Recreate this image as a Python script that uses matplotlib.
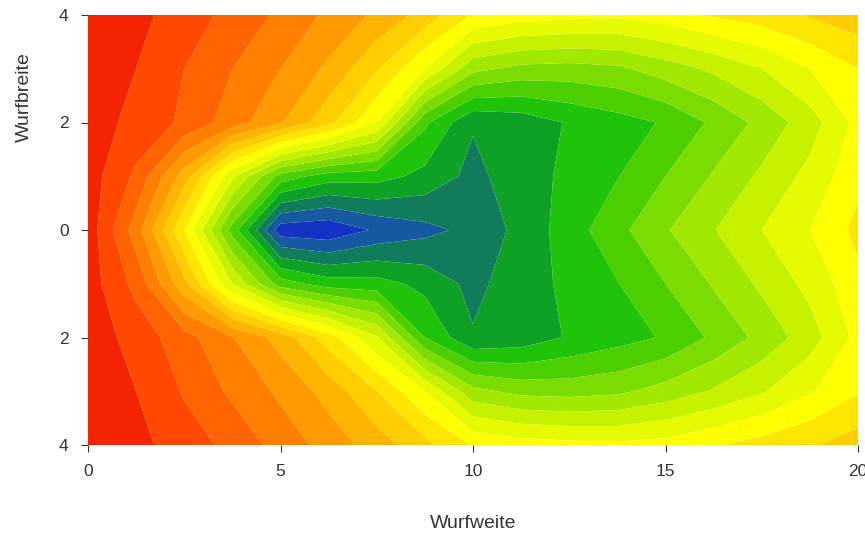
"""Gefüllter Konturplot: Wurfweite vs. Wurfbreite."""

import matplotlib
matplotlib.use("Agg")
import matplotlib.pyplot as plt
import numpy as np

plt.rcParams["font.family"] = ["Liberation Sans", "DejaVu Sans"]

# Rasterpunkte
wurfweite = [0, 1.25, 2.5, 3.75, 5, 6.25, 7.5, 8.75, 10,
             11.25, 12.5, 13.75, 15, 16.25, 17.5, 18.75, 20]
wurfbreite = [-4, -3, -2, -1, 0, 1, 2, 3, 4]

# Werte je Zeile (von y = -4 bis y = 4), aus dem Bild abgeschätzt
z_m4 = [19.2, 18.3, 17.5, 16.7, 15.6, 14.6, 13.5, 12.3, 10.9, 10.5, 10.3, 10.2, 10.4, 10.9, 11.4, 11.9, 12.5]
z_m3 = [19.0, 18.0, 16.9, 15.8, 14.8, 13.6, 12.0, 10.0, 7.3, 6.7, 6.6, 6.8, 7.4, 8.1, 8.9, 9.9, 10.9]
z_m2 = [18.6, 17.6, 16.4, 15.05, 13.6, 11.5, 9.1, 5.0, 3.1, 3.4, 4.1, 4.6, 5.1, 6.2, 7.3, 8.55, 10.3]
z_m1 = [18.5, 16.7, 13.3, 9.0, 5.5, 4.5, 4.4, 3.7, 2.7, 3.6, 4.2, 4.95, 6.0, 7.1, 8.2, 9.3, 10.7]
z_0 = [18.6, 15.5, 11.0, 5.58, 0.38, 0.2, 1.15, 1.7, 2.3, 3.3, 4.5, 5.7, 6.9, 7.95, 9.0, 10.0, 11.3]
z_p1 = [18.5, 16.8, 13.5, 9.2, 5.6, 4.5, 4.4, 3.7, 2.7, 3.6, 4.2, 4.95, 6.0, 7.1, 8.2, 9.3, 10.7]
z_p2 = [18.5, 17.7, 16.8, 15.5, 14.1, 12.3, 10.0, 5.2, 3.1, 3.4, 4.1, 4.6, 5.1, 6.2, 7.3, 8.55, 10.3]
z_p3 = [19.0, 18.0, 17.0, 16.0, 15.0, 13.8, 12.1, 10.0, 7.3, 6.7, 6.6, 6.8, 7.5, 8.2, 9.0, 10.0, 11.0]
z_p4 = [19.2, 18.3, 17.5, 16.7, 15.8, 14.8, 13.8, 12.6, 10.9, 10.5, 10.3, 10.2, 10.5, 11.1, 11.5, 12.1, 12.6]

levels = list(range(0, 19)) + [22]
band_colors = [
    "#1432c4", "#1559a0", "#107c5c", "#0fa125", "#1ec30a", "#4ccf00",
    "#7adc00", "#a2e800", "#c6f200", "#e6fb00", "#ffff00", "#ffe600",
    "#ffce00", "#ffb400", "#ff9a00", "#ff8000", "#ff6400", "#ff4800",
    "#f52400",
]

Z = np.array([z_m4, z_m3, z_m2, z_m1, z_0, z_p1, z_p2, z_p3, z_p4])

fig = plt.figure(figsize=(8.65, 5.37), dpi=100)
ax = fig.add_axes([88 / 865, 1 - 445 / 537, 770 / 865, 430 / 537])
ax.contourf(wurfweite, wurfbreite, Z, levels=levels, colors=band_colors,
            antialiased=True)
ax.set_xlim(0, 20)
ax.set_ylim(-4, 4)

for s in ax.spines.values():
    s.set_visible(False)

ax.set_xticks([0, 5, 10, 15, 20])
ax.set_xticklabels(["0", "5", "10", "15", "20"])
ax.set_yticks([-4, -2, 0, 2, 4])
ax.set_yticklabels(["4", "2", "0", "2", "4"])
ax.tick_params(axis="both", length=5, width=0.8, color="#333333",
               labelsize=12.5, labelcolor="#333333", pad=9)

ax.set_xlabel("Wurfweite", fontsize=14, color="#333333")
ax.set_ylabel("Wurfbreite", fontsize=14, color="#333333")
ax.xaxis.set_label_coords(0.5, -0.163)
ax.yaxis.set_label_coords(-0.072, 0.81)

fig.savefig("out.png", dpi=100)
